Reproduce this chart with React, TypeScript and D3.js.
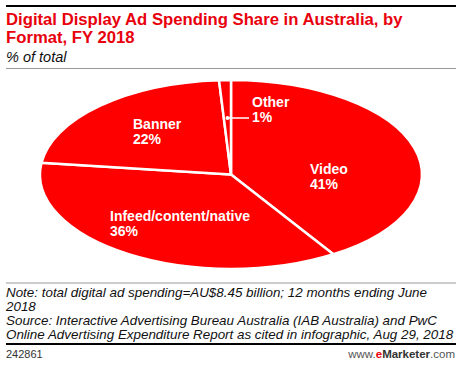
import React from "react";
import * as d3 from "d3";

const categories = ["Video", "Infeed/content/native", "Banner", "Other"];
const values = [41, 36, 22, 1];

const W = 461, H = 366;
const CX = 231, CY = 174.5, RX = 191, RY = 94.5;
const RED = "#ff0000";
const FONT = "Liberation Sans, Arial, sans-serif";

// label anchor positions (left x, baseline of first line)
const labelPos: Record<string, [number, number]> = {
  "Video": [310, 174],
  "Infeed/content/native": [110, 221],
  "Banner": [133, 129],
  "Other": [252, 107],
};

export default function App() {
  const pie = d3.pie<number>().sort(null).startAngle(0).endAngle(2 * Math.PI);
  const arcs = pie(values);
  const arc = d3.arc<d3.PieArcDatum<number>>().innerRadius(0).outerRadius(RX);
  const sy = RY / RX;
  const otherArc = arcs[3];
  const midA = (otherArc.startAngle + otherArc.endAngle) / 2;
  const ox = CX + Math.sin(midA) * RX * 0.58;

  return (
    <svg width={W} height={H} style={{ position: "absolute", left: 0, top: 0 }}>
      <rect width={W} height={H} fill="#fff" />
      <line x1={6} x2={456} y1={6} y2={6} stroke="#000" strokeWidth={2} />
      <text x={6} y={25} fill="#e8000c" fontFamily={FONT} fontWeight="bold" fontSize={16.7}>
        Digital Display Ad Spending Share in Australia, by
      </text>
      <text x={6} y={43} fill="#e8000c" fontFamily={FONT} fontWeight="bold" fontSize={16.7}>
        Format, FY 2018
      </text>
      <text x={6} y={62} fill="#111" fontFamily={FONT} fontStyle="italic" fontSize={14.5}>
        % of total
      </text>
      <line x1={6} x2={456} y1={68.5} y2={68.5} stroke="#999" strokeWidth={1} />

      <g transform={`translate(${CX},${CY}) scale(1,${sy})`}>
        {arcs.map((a, i) => (
          <path key={categories[i]} d={arc(a) || ""} fill={RED} stroke="#fff" strokeWidth={2.5}
            vectorEffect="non-scaling-stroke" strokeLinejoin="round" />
        ))}
      </g>
      <circle cx={ox} cy={118} r={2} fill="#fff" />
      <line x1={ox} x2={249} y1={118} y2={118} stroke="#fff" strokeWidth={1.5} />

      {arcs.map((a, i) => {
        const name = categories[i];
        const [lx, ly] = labelPos[name];
        return (
          <text key={name} x={lx} y={ly} fill="#fff" fontFamily={FONT} fontWeight="bold" fontSize={14}>
            <tspan x={lx} dy={0}>{name}</tspan>
            <tspan x={lx} dy={15}>{values[i]}%</tspan>
          </text>
        );
      })}

      <line x1={6} x2={456} y1={283} y2={283} stroke="#999" strokeWidth={1} />
      <g fontFamily={FONT} fontStyle="italic" fontSize={13.4} fill="#111">
        <text x={6} y={297}>Note: total digital ad spending=AU$8.45 billion; 12 months ending June</text>
        <text x={6} y={311}>2018</text>
        <text x={6} y={325}>Source: Interactive Advertising Bureau Australia (IAB Australia) and PwC</text>
        <text x={6} y={339}>Online Advertising Expenditure Report as cited in infographic, Aug 29, 2018</text>
      </g>
      <line x1={6} x2={456} y1={344} y2={344} stroke="#000" strokeWidth={2} />
      <text x={6} y={358} fontFamily={FONT} fontSize={11} fill="#333">242861</text>
      <text x={455} y={358} textAnchor="end" fontFamily={FONT} fontSize={11.5} fill="#555">
        www.<tspan fill="#e8000c" fontWeight="bold">e</tspan><tspan fill="#333" fontWeight="bold">Marketer</tspan>.com
      </text>
    </svg>
  );
}
